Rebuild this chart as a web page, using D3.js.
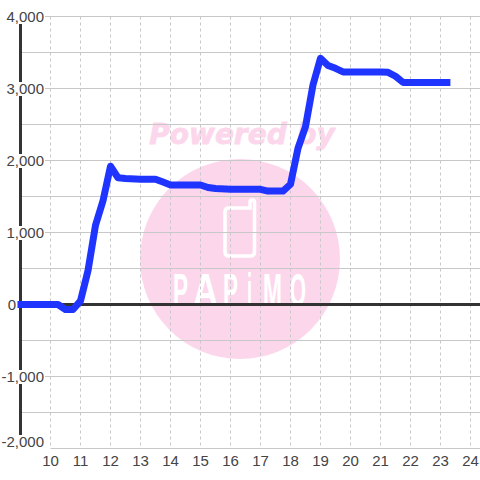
<!DOCTYPE html>
<html>
<head>
<meta charset="utf-8">
<script src="https://cdn.jsdelivr.net/npm/d3@7"></script>
<style>
html, body { margin: 0; padding: 0; background: #fff; }
text { font-family: "Liberation Sans", sans-serif; }
</style>
</head>
<body>
<div id="chart"></div>
<script>
// Values.
const hours = [8.9, 10, 10.25, 10.5, 10.75, 11, 11.25, 11.5, 11.75, 12, 12.25, 12.5, 13, 13.5, 13.75, 14, 15, 15.25, 15.5, 16, 17, 17.25, 17.75, 18, 18.25, 18.5, 18.75, 19, 19.25, 19.5, 19.75, 20, 21, 21.25, 21.5, 21.75, 23.33];
const values = [0, 0, 0, -70, -70, 50, 470, 1100, 1440, 1920, 1760, 1750, 1740, 1740, 1700, 1660, 1660, 1625, 1610, 1600, 1600, 1575, 1575, 1670, 2170, 2470, 3050, 3420, 3320, 3280, 3230, 3230, 3230, 3225, 3170, 3085, 3085];
const xTicks = [10, 11, 12, 13, 14, 15, 16, 17, 18, 19, 20, 21, 22, 23, 24];
const yTicks = [-1500, -1000, -500, 0, 500, 1000, 1500, 2000, 2500, 3000, 3500, 4000];
const yLabelled = [-2000, -1000, 0, 1000, 2000, 3000, 4000];
const logoLetters = ['P', 'A', 'P', 'i', 'M', 'O'];
const logoLeft = [173, 193, 223, 247, 263, 290];
const logoWidth = [15, 25, 15, 5, 19, 16];

const size = 480;
const x = d3.scaleLinear().domain([10, 24]).range([50.5, 470.5]);
const y = d3.scaleLinear().domain([-2000, 4000]).range([448.5, 16.5]);
const axisX = x(9);

const svg = d3.select('#chart').append('svg')
    .attr('width', size)
    .attr('height', size)
    .style('display', 'block');

// Watermark.
const mark = svg.append('g');
mark.append('circle')
    .attr('cx', 240).attr('cy', 259).attr('r', 100)
    .attr('fill', '#fcd7ec');
mark.append('text')
    .attr('x', 242).attr('y', 144)
    .attr('text-anchor', 'middle')
    .attr('font-size', 28)
    .attr('font-weight', 'bold')
    .attr('font-style', 'italic')
    .style('font-family', '"DejaVu Sans", sans-serif')
    .attr('fill', '#fcd7ec')
    .attr('stroke', '#fcd7ec')
    .attr('stroke-width', 0.8)
    .text('Powered by');
mark.append('path')
    .attr('d', 'M229 208H250V202Q250 200 252 200Q254.500 200 254.500 202V252Q254.500 256 250 256H229Q225 256 225 252V212Q225 208 229 208Z')
    .attr('fill', 'none')
    .attr('stroke', '#fff')
    .attr('stroke-width', 3.5);
// Logo letters are squeezed one by one to the condensed look of the original.
mark.append('g').selectAll('text')
    .data(logoLetters)
  .enter().append('text')
    .attr('font-size', 46)
    .attr('font-weight', 'bold')
    .attr('fill', '#fff')
    .text(d => d)
    .attr('transform', function(d, i) {
        let scale = logoWidth[i] / this.getComputedTextLength();
        return 'translate(' + logoLeft[i] + ',306) scale(' + scale + ',1)';
    });

// Grid.
svg.append('g').selectAll('line')
    .data(xTicks)
  .enter().append('line')
    .attr('x1', d => x(d)).attr('x2', d => x(d))
    .attr('y1', y(4000)).attr('y2', y(-2000))
    .attr('stroke', '#c8c8c8')
    .attr('stroke-dasharray', '3,3');

svg.append('g').selectAll('line')
    .data(yTicks)
  .enter().append('line')
    .attr('x1', axisX).attr('x2', size)
    .attr('y1', d => y(d)).attr('y2', d => y(d))
    .attr('stroke', '#c8c8c8');
svg.append('line')
    .attr('x1', x(10)).attr('x2', size)
    .attr('y1', y(-2000)).attr('y2', y(-2000))
    .attr('stroke', '#c8c8c8');

// Axis lines.
svg.append('line')
    .attr('x1', axisX).attr('x2', axisX)
    .attr('y1', y(4000)).attr('y2', y(-2000))
    .attr('stroke', '#333').attr('stroke-width', 3);
svg.append('line')
    .attr('x1', axisX).attr('x2', size)
    .attr('y1', y(0)).attr('y2', y(0))
    .attr('stroke', '#333').attr('stroke-width', 3);

// Y labels sit on a white box that cuts the axis and grid lines.
// The bottom label is pushed up, the zero label sits left of the axis.
const format = d => d3.format(',')(d).replace('\u2212', '-');
const labelY = d => d === -2000 ? y(d) - 7 : y(d);
let yLabels = svg.append('g').selectAll('g')
    .data(yLabelled)
  .enter().append('g');
yLabels.append('rect')
    .attr('x', 0)
    .attr('y', d => labelY(d) - 6.5)
    .attr('width', d => d === 0 ? 17 : 45)
    .attr('height', d => d === -2000 ? 22 : 14)
    .attr('fill', '#fff');
yLabels.append('text')
    .attr('x', d => d === 0 ? 16 : 44)
    .attr('y', d => labelY(d) + 5)
    .attr('text-anchor', 'end')
    .attr('font-size', 15)
    .attr('fill', '#444')
    .text(d => format(d));

svg.append('g').selectAll('text')
    .data(xTicks)
  .enter().append('text')
    .attr('x', d => x(d))
    .attr('y', 466)
    .attr('text-anchor', 'middle')
    .attr('font-size', 15)
    .attr('fill', '#444')
    .text(d => d);

// Series line.
const line = d3.line()
    .x((d, i) => x(hours[i]))
    .y(d => y(d));
svg.append('path')
    .datum(values)
    .attr('d', line)
    .attr('fill', 'none')
    .attr('stroke', '#1f35ff')
    .attr('stroke-width', 7)
    .attr('stroke-linejoin', 'round');
</script>
</body>
</html>
